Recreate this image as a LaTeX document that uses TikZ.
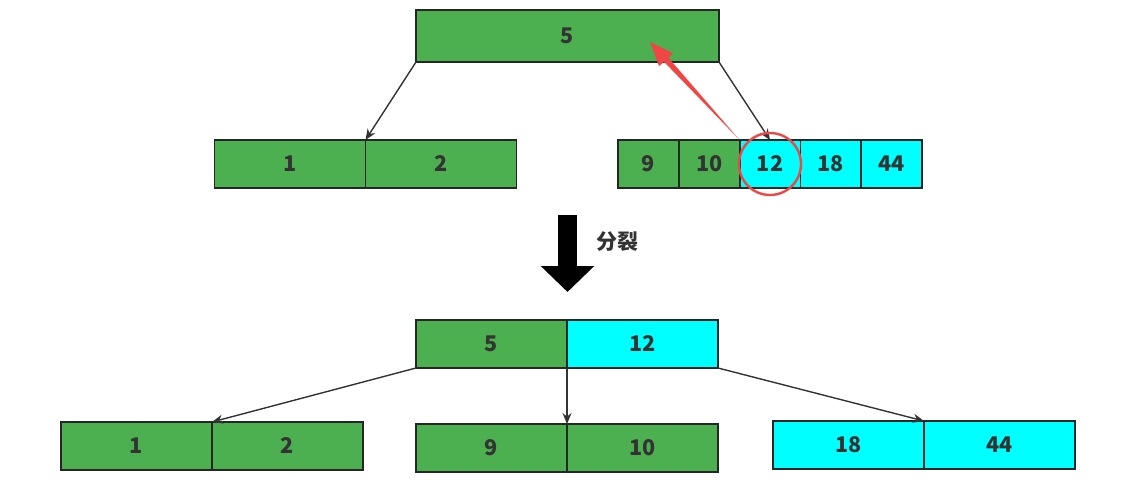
\documentclass[tikz,border=0pt]{standalone}
\usepackage{fontspec}
\setmainfont{Noto Sans CJK SC}
\usepackage{tikz}
\usetikzlibrary{positioning, calc}
\usetikzlibrary{arrows.meta}
\usepackage{xcolor}
\definecolor{keygreen}{RGB}{76,175,80}
\definecolor{keycyan}{RGB}{0,255,255}
\definecolor{textgray}{RGB}{51,51,51}
\definecolor{splitred}{RGB}{240,70,70}

\begin{document}
\begin{tikzpicture}[
                x=0.5pt, y=-0.5pt,
                cell/.style={rectangle, draw=black!85, line width=0.9pt, fill=keygreen, minimum width=75.5pt, minimum height=24pt, inner sep=0pt, outer sep=0pt, text=textgray, font=\bfseries\fontsize{10.8}{12}\selectfont},
                small/.style={cell, minimum width=30.4pt},
                newkey/.style={fill=keycyan},
                line/.style={draw, color=textgray, line width=0.7pt, -{Stealth[length=5.5pt, width=4.5pt]}}
            ]
                \useasboundingbox (0,0) rectangle (1137,482);

                % Before: leaf 9 10 12 18 44 overflows
                \node[cell, minimum width=151.5pt, minimum height=26pt] (root) at (567.5,36) {5};
                \node[cell] (a1) at (290,164) {1};
                \node[cell, right=0pt of a1] (a2) {2};
                \node[small] (c9) at (648.4,164) {9};
                \node[small, right=0pt of c9] (c10) {10};
                \node[small, newkey, right=0pt of c10] (c12) {12};
                \node[small, newkey, right=0pt of c12] (c18) {18};
                \node[small, newkey, right=0pt of c18] (c44) {44};

                \path[line] (root.south west) -- (a1.north east);
                \path[line] (root.south east) -- (c12.north);

                % middle key goes up
                \draw[splitred, line width=1.2pt] (c12) circle[radius=15.5pt];
                \coordinate (redtip) at (650,42);
                \coordinate (redhead) at ($(redtip)!12pt!(c12.north west)$);
                \fill[splitred] (c12.north west) -- ($(redhead)!1.5pt!90:(redtip)$) -- ($(redhead)!4.8pt!90:(redtip)$) -- (redtip) -- ($(redhead)!4.8pt!-90:(redtip)$) -- ($(redhead)!1.5pt!-90:(redtip)$) -- cycle;

                % Split
                \coordinate (splittop) at (567.5,215);
                \coordinate (splitend) at (567.5,292);
                \draw[line width=9.5pt, -{Triangle[width=26pt, length=13pt]}] (splittop) -- (splitend);
                \node[text=textgray, font=\bfseries\fontsize{10.5}{12}\selectfont] (splitlabel) at (617,242) {分裂};

                % After
                \node[cell] (b5) at (491.5,344) {5};
                \node[cell, newkey, right=0pt of b5] (b12) {12};
                \node[cell] (b1) at (136.5,446) {1};
                \node[cell, right=0pt of b1] (b2) {2};
                \node[cell] (b9) at (491.5,448) {9};
                \node[cell, right=0pt of b9] (b10) {10};
                \node[cell, newkey] (b18) at (848.5,445) {18};
                \node[cell, newkey, right=0pt of b18] (b44) {44};

                \path[line] (b5.south west) -- (b1.north east);
                \path[line] (b5.south east) -- (b9.north east);
                \path[line] (b12.south east) -- (b18.north east);
            \end{tikzpicture}
\end{document}
